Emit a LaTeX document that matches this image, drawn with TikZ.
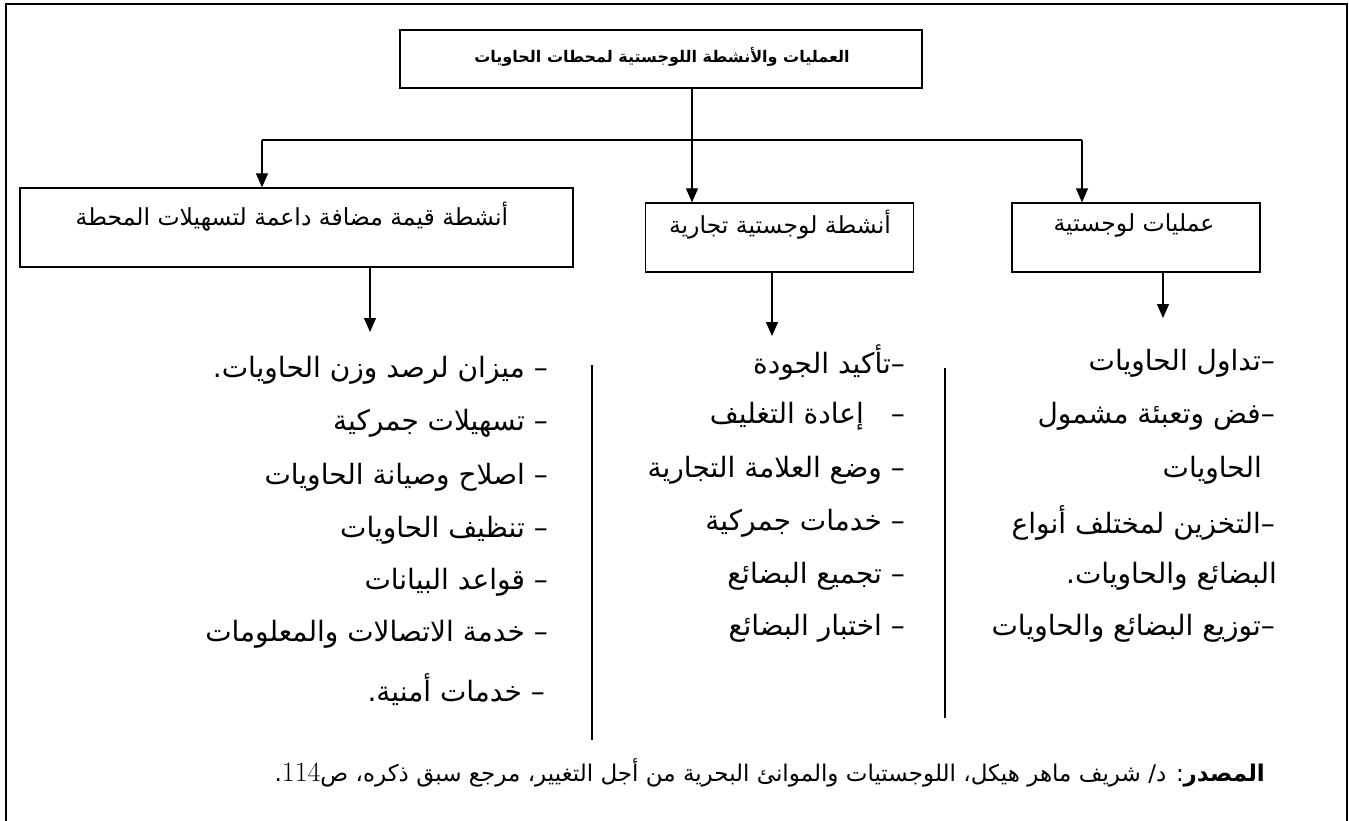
\documentclass[tikz,border=0pt]{standalone}
\usepackage{fontspec}
\TeXXeTstate=1
\newfontfamily\arabicfont[Script=Arabic]{DejaVu Sans}
\usetikzlibrary{arrows.meta}
\begin{document}
\begin{tikzpicture}[x=1pt,y=-1pt,
  frame/.style={line width=2.4pt},
  box/.style={draw, line width=1.3pt, inner sep=0pt},
  boxtext/.style={inner sep=0pt, font=\arabicfont\fontsize{23.5}{28}\selectfont},
  titletext/.style={inner sep=0pt, font=\arabicfont\bfseries\fontsize{16}{19}\selectfont},
  item/.style={anchor=east, inner sep=0pt, font=\arabicfont\fontsize{28}{33}\selectfont},
  note/.style={anchor=east, inner sep=0pt, font=\arabicfont\fontsize{23}{27}\selectfont},
  link/.style={line width=1.3pt},
  arr/.style={line width=1.3pt, -{Triangle[length=14pt,width=12pt]}},
  sep/.style={line width=1.2pt},
]
\useasboundingbox (0,0) rectangle (1349,821);
\coordinate (fbl) at (6,821);
\coordinate (ftl) at (6,4);
\coordinate (ftr) at (1347,4);
\coordinate (fbr) at (1347,821);
\draw[frame] (fbl) -- (ftl) -- (ftr) -- (fbr);

% boxes
\node[box, minimum width=522pt, minimum height=58pt] (top) at (661,59) {};
\node[titletext] (toptext) at (662,57) {\beginR العمليات والأنشطة اللوجستية لمحطات الحاويات\endR};

\node[box, minimum width=553pt, minimum height=79pt] (lbox) at (296.5,227.5) {};
\node[boxtext] (ltext) at (292,217) {\beginR أنشطة قيمة مضافة داعمة لتسهيلات المحطة\endR};

\node[box, minimum width=268pt, minimum height=69pt] (mbox) at (779.5,237.5) {};
\node[boxtext] (mtext) at (780,225) {\beginR أنشطة لوجستية تجارية\endR};

\node[box, minimum width=248pt, minimum height=69pt] (rbox) at (1136,237.5) {};
\node[boxtext] (rtext) at (1134,225) {\beginR عمليات لوجستية\endR};

% connectors
\coordinate (j) at (692,140);
\coordinate (jl) at (262,140);
\coordinate (jr) at (1082,140);
\draw[link] (top.south -| j) -- (j);
\draw[link] (jl) -- (jr);
\draw[arr] (jl) -- (jl |- lbox.north);
\draw[arr] (j) -- (j |- mbox.north);
\draw[arr] (jr) -- (jr |- rbox.north);

\coordinate (la) at (370,332);
\coordinate (ma) at (772,336);
\coordinate (ra) at (1163,318);
\draw[arr] (la |- lbox.south) -- (la);
\draw[arr] (ma |- mbox.south) -- (ma);
\draw[arr] (ra |- rbox.south) -- (ra);

% separators
\coordinate (s1t) at (592,365);
\coordinate (s1b) at (592,740);
\coordinate (s2t) at (945,368);
\coordinate (s2b) at (945,718);
\draw[sep] (s1t) -- (s1b);
\draw[sep] (s2t) -- (s2b);

% left list
\node[item] (l1) at (548,370) {\beginR – ميزان لرصد وزن الحاويات.\endR};
\node[item] (l2) at (548,423) {\beginR – تسهيلات جمركية\endR};
\node[item] (l3) at (548,477) {\beginR – اصلاح وصيانة الحاويات\endR};
\node[item] (l4) at (548,530) {\beginR – تنظيف الحاويات\endR};
\node[item] (l5) at (548,582) {\beginR – قواعد البيانات\endR};
\node[item] (l6) at (548,634) {\beginR – خدمة الاتصالات والمعلومات\endR};
\node[item] (l7) at (545,690) {\beginR – خدمات أمنية.\endR};

% middle list
\node[item] (m1) at (905,363) {\beginR –تأكيد الجودة\endR};
\node[item] (m2) at (905,416) {\beginR –\hspace{18pt} إعادة التغليف\endR};
\node[item] (m3) at (905,470) {\beginR – وضع العلامة التجارية\endR};
\node[item] (m4) at (905,523) {\beginR – خدمات جمركية\endR};
\node[item] (m5) at (905,576) {\beginR – تجميع البضائع\endR};
\node[item] (m6) at (905,628) {\beginR – اختبار البضائع\endR};

% right list
\node[item] (r1) at (1275,363) {\beginR –تداول الحاويات\endR};
\node[item] (r2) at (1275,416) {\beginR –فض وتعبئة مشمول\endR};
\node[item] (r3) at (1262,470) {\beginR الحاويات\endR};
\node[item] (r4) at (1275,523) {\beginR –التخزين لمختلف أنواع\endR};
\node[item] (r5) at (1277,576) {\beginR البضائع والحاويات.\endR};
\node[item] (r6) at (1275,628) {\beginR –توزيع البضائع والحاويات\endR};

% source
\node[note] (src) at (1265,773) {\beginR{\bfseries المصدر}: د/ شريف ماهر هيكل، اللوجستيات والموانئ البحرية من أجل التغيير، مرجع سبق ذكره، ص\beginL{\rmfamily\fontsize{28}{31}\selectfont 114}\endL.\endR};
\end{tikzpicture}
\end{document}
